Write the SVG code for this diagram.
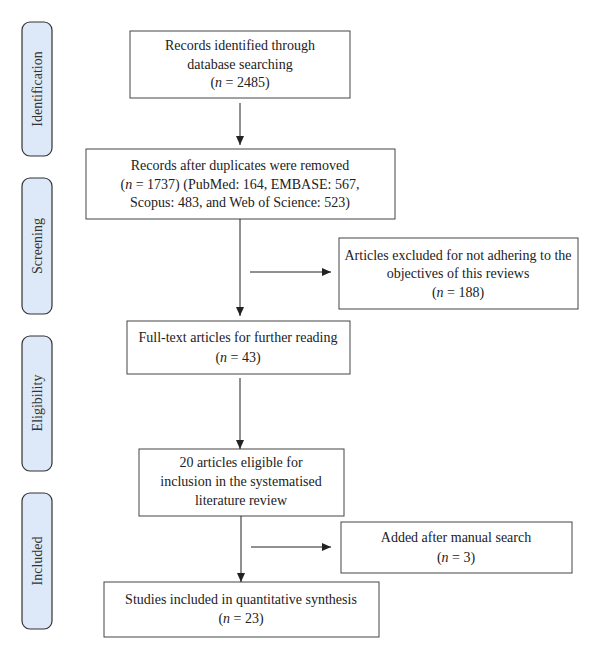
<svg xmlns="http://www.w3.org/2000/svg" width="600" height="659" viewBox="0 0 600 659">
<style>
.box{fill:#fff;stroke:#444;stroke-width:1}
.pill{fill:#dde9f8;stroke:#333;stroke-width:1.2}
text{font-family:"Liberation Serif","DejaVu Serif",serif;font-size:14px;fill:#222;text-anchor:middle}
.side{font-size:14px;fill:#333}
.ln{stroke:#222;stroke-width:1;fill:none}
</style>
<defs>
<marker id="ah" markerWidth="10" markerHeight="10" refX="9" refY="5" orient="auto" markerUnits="userSpaceOnUse">
<path d="M0,1 L9,5 L0,9 Z" fill="#222"/>
</marker>
</defs>
<g id="stage-identification"><rect class="pill" x="22" y="22" width="30" height="134" rx="8"/><text class="side" transform="translate(42,89) rotate(-90)">Identification</text></g>
<g id="stage-screening"><rect class="pill" x="22" y="178" width="30" height="136" rx="8"/><text class="side" transform="translate(42,246) rotate(-90)">Screening</text></g>
<g id="stage-eligibility"><rect class="pill" x="22" y="336" width="30" height="135" rx="8"/><text class="side" transform="translate(42,403) rotate(-90)">Eligibility</text></g>
<g id="stage-included"><rect class="pill" x="22" y="493" width="30" height="136" rx="8"/><text class="side" transform="translate(42,561) rotate(-90)">Included</text></g>

<g id="n1"><rect class="box" x="130" y="31" width="220" height="67"/>
<text x="240" y="50">Records identified through</text>
<text x="240" y="69">database searching</text>
<text x="240" y="87">(<tspan font-style="italic">n</tspan> = 2485)</text></g>

<g id="n2"><rect class="box" x="86" y="149" width="309" height="70"/>
<text x="240" y="170">Records after duplicates were removed</text>
<text x="240" y="189">(<tspan font-style="italic">n</tspan> = 1737) (PubMed: 164, EMBASE: 567,</text>
<text x="240" y="207">Scopus: 483, and Web of Science: 523)</text></g>

<g id="n3"><rect class="box" x="339" y="238" width="239" height="71"/>
<text x="458" y="260">Articles excluded for not adhering to the</text>
<text x="458" y="278">objectives of this reviews</text>
<text x="458" y="297">(<tspan font-style="italic">n</tspan> = 188)</text></g>

<g id="n4"><rect class="box" x="127" y="321" width="223" height="53"/>
<text x="238" y="342">Full-text articles for further reading</text>
<text x="238" y="362">(<tspan font-style="italic">n</tspan> = 43)</text></g>

<g id="n5"><rect class="box" x="139" y="449" width="205" height="67"/>
<text x="241" y="467">20 articles eligible for</text>
<text x="241" y="486">inclusion in the systematised</text>
<text x="241" y="505">literature review</text></g>

<g id="n6"><rect class="box" x="341" y="522" width="231" height="51"/>
<text x="456" y="542">Added after manual search</text>
<text x="456" y="562">(<tspan font-style="italic">n</tspan> = 3)</text></g>

<g id="n7"><rect class="box" x="104" y="582" width="275" height="55"/>
<text x="241" y="604">Studies included in quantitative synthesis</text>
<text x="241" y="623">(<tspan font-style="italic">n</tspan> = 23)</text></g>

<g id="connectors">
<line class="ln" x1="240" y1="103" x2="240" y2="145" marker-end="url(#ah)"/>
<line class="ln" x1="240" y1="219" x2="240" y2="316" marker-end="url(#ah)"/>
<line class="ln" x1="250" y1="272" x2="331" y2="272" marker-end="url(#ah)"/>
<line class="ln" x1="240" y1="378" x2="240" y2="449" marker-end="url(#ah)"/>
<line class="ln" x1="241" y1="516" x2="241" y2="582" marker-end="url(#ah)"/>
<line class="ln" x1="251" y1="547" x2="331" y2="547" marker-end="url(#ah)"/>
</g>
</svg>
